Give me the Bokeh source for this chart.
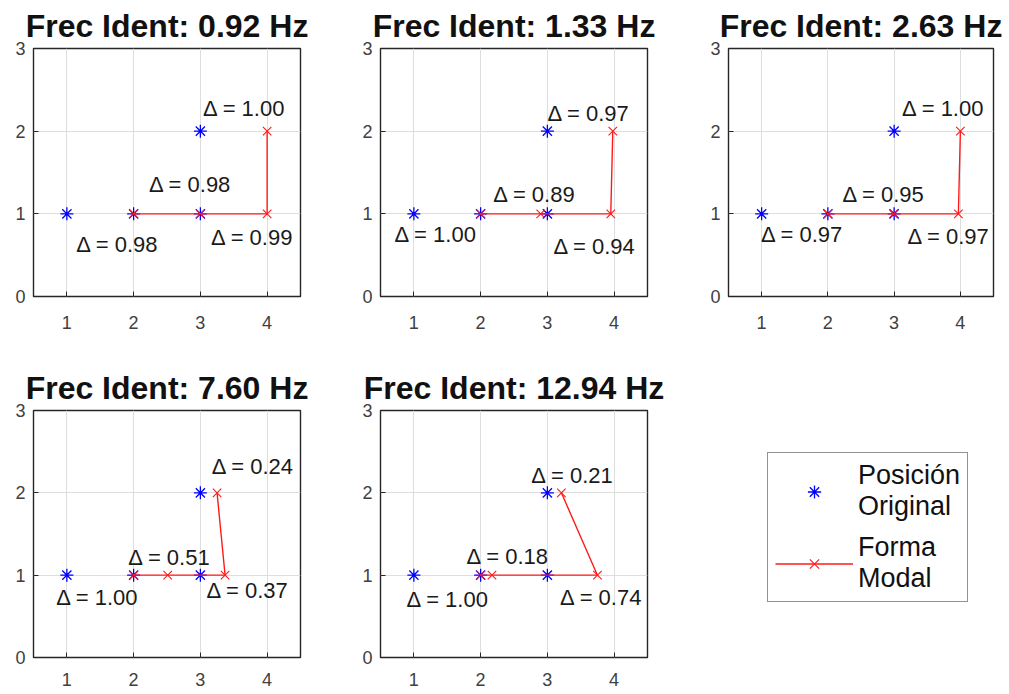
from bokeh.plotting import figure
from bokeh.layouts import column, row
from bokeh.models import (FixedTicker, Legend, LegendItem,
                          ColumnDataSource, Range1d)
from bokeh.core.properties import value
from bokeh.embed import file_html
from bokeh.resources import INLINE

# ---------------- data ----------------
freqs = [0.92, 1.33, 2.63, 7.60, 12.94]

orig_x = [1, 2, 3, 3]
orig_y = [1, 1, 1, 2]

modal_x = [
    [2.0, 3.0, 4.0, 4.0],
    [2.0, 2.90, 3.95, 3.98],
    [2.0, 2.99, 3.97, 4.0],
    [2.0, 2.51, 3.37, 3.25],
    [2.0, 2.17, 3.75, 3.21],
]
modal_y = [1, 1, 1, 2]

deltas = [
    [0.98, 0.98, 0.99, 1.00],
    [1.00, 0.89, 0.94, 0.97],
    [0.97, 0.95, 0.97, 1.00],
    [1.00, 0.51, 0.37, 0.24],
    [1.00, 0.18, 0.74, 0.21],
]
label_x = [
    [1.14, 2.23, 3.16, 3.04],
    [0.71, 2.19, 3.09, 3.00],
    [0.99, 2.22, 3.20, 3.12],
    [0.84, 1.92, 3.09, 3.17],
    [0.89, 1.79, 3.19, 2.76],
]
label_y = [
    [0.63, 1.35, 0.71, 2.28],
    [0.75, 1.23, 0.60, 2.21],
    [0.75, 1.23, 0.73, 2.27],
    [0.73, 1.22, 0.81, 2.32],
    [0.71, 1.23, 0.73, 2.21],
]

x_ticks = [1, 2, 3, 4]
y_ticks = [0, 1, 2, 3]
legend_labels = ["Posición\nOriginal", "Forma\nModal"]

# ---------------- style ----------------
FONT = "Liberation Sans"
AX = "#262626"
TICK_LBL = "#404040"
GRID = "#dedede"
BLUE = "#0000ff"
RED = "#ff1a1a"


def style_axis(ax, ticks, standoff, size="18px"):
    ax.ticker = FixedTicker(ticks=ticks)
    ax.axis_line_color = None
    ax.major_tick_in = 5
    ax.major_tick_out = 0
    ax.minor_tick_in = 0
    ax.minor_tick_out = 0
    ax.major_tick_line_color = AX
    ax.major_tick_line_width = 1
    ax.major_label_text_font = FONT
    ax.major_label_text_font_size = size
    ax.major_label_text_color = TICK_LBL
    ax.major_label_standoff = standoff


def make_panel(i, width, height, bl, br, bt, bb, bottom_standoff):
    p = figure(width=width, height=height, output_backend="svg",
               toolbar_location=None,
               x_range=Range1d(0.5, 4.5), y_range=Range1d(0, 3),
               min_border_left=bl, min_border_right=br,
               min_border_top=bt, min_border_bottom=bb)
    p.title.text = "Frec Ident: %.2f Hz" % freqs[i]
    p.title.text_font = FONT
    p.title.text_font_size = "32px"
    p.title.text_font_style = "bold"
    p.title.text_color = "#111111"
    p.title.align = "center"
    p.title.standoff = 9
    p.title.offset = 0

    style_axis(p.xaxis[0], x_ticks, bottom_standoff)
    style_axis(p.yaxis[0], y_ticks, 8)

    p.xgrid.ticker = FixedTicker(ticks=x_ticks)
    p.ygrid.ticker = FixedTicker(ticks=y_ticks)
    p.grid.grid_line_color = GRID
    p.grid.grid_line_width = 1

    p.outline_line_color = AX
    p.outline_line_width = 1.4
    p.outline_line_alpha = 1.0
    p.background_fill_color = "white"
    p.border_fill_color = "white"

    src_o = ColumnDataSource(dict(x=orig_x, y=orig_y))
    p.scatter("x", "y", source=src_o, marker="asterisk", size=13,
              line_color=BLUE, line_width=1.3)

    src_m = ColumnDataSource(dict(x=modal_x[i], y=modal_y))
    p.line("x", "y", source=src_m, line_color=RED, line_width=1.4)
    p.scatter("x", "y", source=src_m, marker="x", size=12,
              line_color=RED, line_width=1.1)

    src_t = ColumnDataSource(dict(
        x=label_x[i], y=label_y[i],
        t=["\u0394 = %.2f" % d for d in deltas[i]]))
    p.text("x", "y", text="t", source=src_t, text_font=value(FONT),
           text_font_size="22px", text_color="#1a1a1a",
           text_align="left", text_baseline="middle")
    return p


W1, W2, W3 = 355, 348, 304
H1, H2 = 362, 332

p1 = make_panel(0, W1, H1, 33, 55, 48, 66, 19)
p2 = make_panel(1, W2, H1, 25, 56, 48, 66, 19)
p3 = make_panel(2, W3, H1, 25, 14, 48, 66, 19)
p4 = make_panel(3, W1, H2, 33, 55, 48, 37, 15)
p5 = make_panel(4, W2, H2, 25, 56, 48, 37, 15)

# legend panel (proxy renderers sit outside the visible range)
p6 = figure(width=W3, height=H2, output_backend="svg", toolbar_location=None,
            x_range=Range1d(100, 101), y_range=Range1d(100, 101),
            x_axis_location=None, y_axis_location=None,
            min_border_left=0, min_border_right=0,
            min_border_top=0, min_border_bottom=0)
p6.grid.visible = False
p6.outline_line_color = None
src_lo = ColumnDataSource(dict(x=orig_x, y=orig_y))
src_lm = ColumnDataSource(dict(x=modal_x[0], y=modal_y))
r_o = p6.scatter("x", "y", source=src_lo, marker="asterisk", size=13,
                 line_color=BLUE, line_width=1.3)
r_l = p6.line("x", "y", source=src_lm, line_color=RED, line_width=1.4)
r_x = p6.scatter("x", "y", source=src_lm, marker="x", size=12,
                 line_color=RED, line_width=1.1)
leg = Legend(items=[LegendItem(label=legend_labels[0], renderers=[r_o]),
                    LegendItem(label=legend_labels[1], renderers=[r_l, r_x])],
             location=(64, 55))
leg.label_text_font = FONT
leg.label_text_font_size = "27px"
leg.label_text_color = "#111111"
leg.glyph_width = 78
leg.glyph_height = 33
leg.label_standoff = 5
leg.padding = 7
leg.spacing = 10
leg.margin = 0
leg.border_line_color = AX
leg.border_line_width = 1.4
leg.background_fill_color = "white"
leg.background_fill_alpha = 1.0
p6.add_layout(leg)

layout = column(row(p1, p2, p3), row(p4, p5, p6))

open("out.html", "w").write(file_html(layout, INLINE))
